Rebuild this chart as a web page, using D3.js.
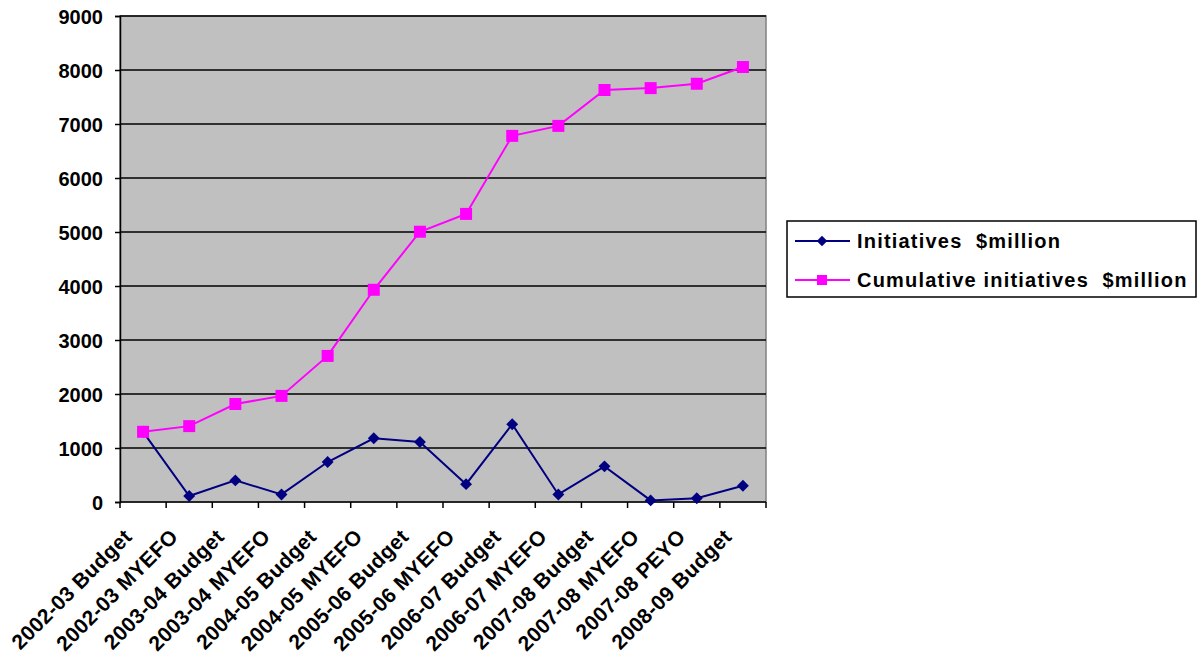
<!DOCTYPE html>
<html><head><meta charset="utf-8">
<script src="https://cdn.jsdelivr.net/npm/d3@7"></script>
<style>body{margin:0;background:#fff}svg text{font-family:"Liberation Sans",Arial,sans-serif;font-weight:bold;fill:#000}</style>
</head><body><svg id="c" width="1204" height="664"></svg>
<script>
const categories = ["2002-03 Budget","2002-03 MYEFO","2003-04 Budget","2003-04 MYEFO","2004-05 Budget","2004-05 MYEFO","2005-06 Budget","2005-06 MYEFO","2006-07 Budget","2006-07 MYEFO","2007-08 Budget","2007-08 MYEFO","2007-08 PEYO","2008-09 Budget"];
const initiatives = [1300,110,400,140,740,1180,1110,330,1440,140,660,30,70,300];
const cumulative = [1300,1405,1815,1965,2705,3930,5005,5335,6780,6965,7630,7665,7745,8055];
const yTicks = [0,1000,2000,3000,4000,5000,6000,7000,8000,9000];
const seriesNames = ["Initiatives  $million","Cumulative initiatives  $million"];
const colors = ["#000080","#FF00FF"];

const svg = d3.select("#c");
const L=120,T=16,R=766,B=502;
const x = d3.scaleBand().domain(categories).range([L,R]);
const y = d3.scaleLinear().domain([0,9000]).range([B,T]);

svg.append("rect").attr("x",L).attr("y",T).attr("width",R-L).attr("height",B-T).attr("fill","#C0C0C0").attr("stroke","#808080").attr("stroke-width",1.5);
svg.append("g").selectAll("line").data(yTicks.filter(d=>d>0)).join("line")
  .attr("x1",L).attr("x2",R).attr("y1",d=>y(d)).attr("y2",d=>y(d)).attr("stroke","#000").attr("stroke-width",1.5);

const ya = svg.append("g").attr("transform",`translate(${L},0)`).call(d3.axisLeft(y).tickValues(yTicks).tickSize(5).tickPadding(12).tickFormat(d3.format("d")));
ya.select(".domain").attr("stroke","#000").attr("stroke-width",1.5);
ya.selectAll(".tick line").attr("stroke","#000").attr("stroke-width",1.5);
ya.selectAll("text").style("font-size","20px").attr("dy","0.35em");

const xa = svg.append("g").attr("transform",`translate(0,${B})`);
xa.append("line").attr("x1",L).attr("x2",R).attr("stroke","#000").attr("stroke-width",1.5);
const bounds = categories.map(c=>x(c)).concat([R]);
xa.selectAll("line.t").data(bounds).join("line").attr("class","t").attr("x1",d=>d).attr("x2",d=>d).attr("y1",0).attr("y2",6).attr("stroke","#000").attr("stroke-width",1.5);
xa.selectAll("text").data(categories).join("text")
  .attr("transform",d=>`translate(${x(d)+x.bandwidth()/2-10},36) rotate(-45)`)
  .attr("text-anchor","end").style("font-size","21px").style("letter-spacing","0.3px").text(d=>d);

const cx = d=>x(d)+x.bandwidth()/2;
const line = d3.line().x((d,i)=>cx(categories[i])).y(d=>y(d));
const diamond = d3.symbol().type(d3.symbolDiamond2).size(90);
const square = d3.symbol().type(d3.symbolSquare).size(144);

svg.append("path").datum(initiatives).attr("d",line).attr("fill","none").attr("stroke",colors[0]).attr("stroke-width",2);
svg.append("path").datum(cumulative).attr("d",line).attr("fill","none").attr("stroke",colors[1]).attr("stroke-width",2);
svg.append("g").selectAll("path").data(initiatives).join("path").attr("d",diamond)
  .attr("transform",(d,i)=>`translate(${cx(categories[i])},${y(d)})`).attr("fill",colors[0]);
svg.append("g").selectAll("path").data(cumulative).join("path").attr("d",square)
  .attr("transform",(d,i)=>`translate(${cx(categories[i])},${y(d)})`).attr("fill",colors[1]);

const lg = svg.append("g");
lg.append("rect").attr("x",787).attr("y",221).attr("width",409).attr("height",76).attr("fill","#fff").attr("stroke","#000").attr("stroke-width",1.5);
const ly=[241,280], sym=[d3.symbol().type(d3.symbolDiamond2).size(70), d3.symbol().type(d3.symbolSquare).size(100)];
seriesNames.forEach((n,i)=>{
  lg.append("line").attr("x1",795).attr("x2",850).attr("y1",ly[i]).attr("y2",ly[i]).attr("stroke",colors[i]).attr("stroke-width",2);
  lg.append("path").attr("d",sym[i]).attr("transform",`translate(822,${ly[i]})`).attr("fill",colors[i]);
  lg.append("text").attr("x",857).attr("y",ly[i]).attr("dy","0.36em").style("font-size","20px").style("letter-spacing","1.2px").style("white-space","pre").text(n);
});
</script></body></html>
